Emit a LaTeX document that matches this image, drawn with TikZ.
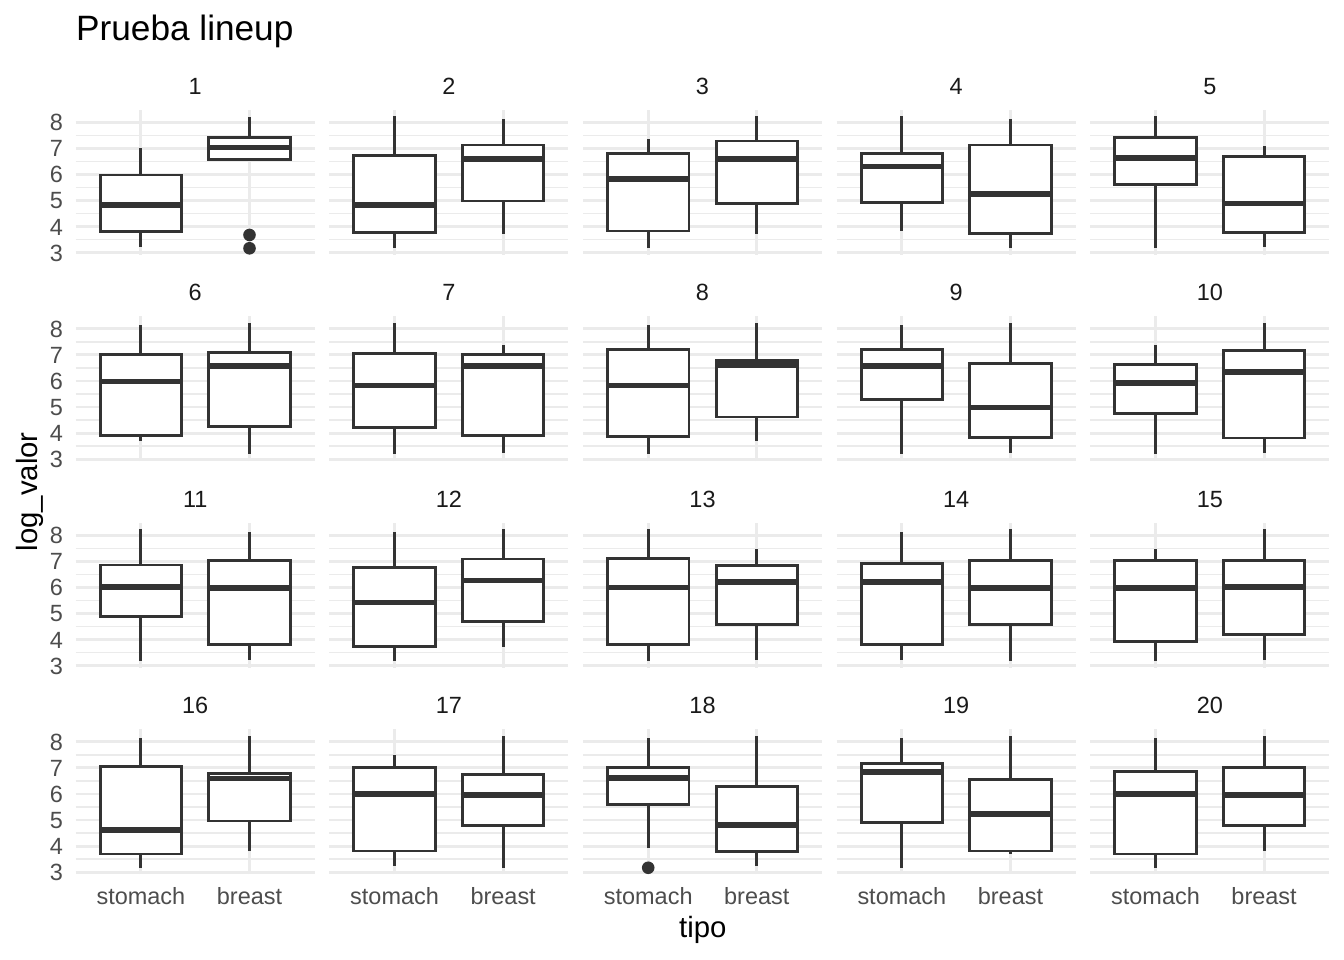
\documentclass[tikz,border=0pt]{standalone}
\usepackage{fontspec}
\setmainfont{Liberation Sans}
\definecolor{gridc}{HTML}{EBEBEB}
\definecolor{boxc}{HTML}{333333}
\definecolor{tickc}{HTML}{4D4D4D}
\definecolor{stripc}{HTML}{1A1A1A}
\tikzset{
  majgrid/.style={draw=gridc, line width=2.84pt},
  mingrid/.style={draw=gridc, line width=1.42pt},
  boxline/.style={draw=boxc, line width=2.84pt},
  medline/.style={draw=boxc, line width=5.7pt},
  outpt/.style={fill=boxc},
  ticklab/.style={text=tickc, font=\fontsize{23.47}{28}\selectfont, inner sep=0pt},
  striplab/.style={text=stripc, font=\fontsize{23.47}{28}\selectfont, inner sep=0pt},
  axtitle/.style={text=black, font=\fontsize{29.33}{35}\selectfont, inner sep=0pt},
  plottitle/.style={text=black, font=\fontsize{35.2}{42}\selectfont, inner sep=0pt},
  panel/.style 2 args={shift={(32.3pt+253.65pt*#1, 629.06pt-206.5pt*#2)}, x=108.6pt, y=26.08pt},
}
\newcommand\drawbox[6]{%
  \draw[boxline] (#1,#5) -- (#1,#6);
  \draw[boxline] (#1,#3) -- (#1,#2);
  \filldraw[boxline, fill=white] (#1-0.375,#3) rectangle (#1+0.375,#5);
  \draw[medline] (#1-0.375,#4) -- (#1+0.375,#4);
}
\begin{document}
\begin{tikzpicture}[x=1pt,y=1pt]
\useasboundingbox (0,0) rectangle (1344,960);
\fill[white] (0,0) rectangle (1344,960);
\node[plottitle, anchor=base west] (title) at (76,919) {Prueba lineup};
\foreach \i/\j/\n/\vA/\vB/\vC/\vD/\vE/\uA/\uB/\uC/\uD/\uE in {
 0/0/1/3.23/3.82/4.82/5.98/7.00/6.50/6.57/7.03/7.42/8.22,
 1/0/2/3.19/3.78/4.82/6.72/8.24/3.70/4.98/6.58/7.13/8.13,
 2/0/3/3.19/3.83/5.83/6.79/7.35/3.70/4.89/6.58/7.28/8.24,
 3/0/4/3.83/4.94/6.30/6.79/8.24/3.19/3.72/5.24/7.13/8.13,
 4/0/5/3.19/5.62/6.62/7.41/8.24/3.23/3.77/4.89/6.68/7.09,
 0/1/6/3.70/3.92/5.98/7.02/8.14/3.19/4.24/6.58/7.08/8.23,
 1/1/7/3.19/4.21/5.83/7.05/8.23/3.22/3.92/6.58/7.02/7.37,
 2/1/8/3.19/3.88/5.83/7.22/8.14/3.70/4.62/6.60/6.80/8.23,
 3/1/9/3.19/5.30/6.58/7.22/8.14/3.22/3.83/4.98/6.67/8.23,
 4/1/10/3.19/4.75/5.92/6.64/7.37/3.22/3.81/6.34/7.16/8.23,
 0/2/11/3.17/4.89/6.02/6.86/8.23/3.22/3.81/5.98/7.03/8.14,
 1/2/12/3.17/3.75/5.42/6.77/8.14/3.73/4.70/6.27/7.09/8.23,
 2/2/13/3.17/3.81/6.00/7.10/8.23/3.22/4.59/6.21/6.84/7.48,
 3/2/14/3.22/3.81/6.21/6.93/8.14/3.17/4.59/5.99/7.03/8.23,
 4/2/15/3.17/3.93/5.98/7.03/7.48/3.22/4.19/6.03/7.03/8.23,
 0/3/16/3.17/3.70/4.62/7.05/8.14/3.81/4.96/6.59/6.79/8.23,
 1/3/17/3.22/3.81/6.00/7.03/7.48/3.17/4.79/5.95/6.75/8.23,
 2/3/18/3.93/5.58/6.62/7.03/8.14/3.22/3.79/4.82/6.29/8.23,
 3/3/19/3.17/4.92/6.84/7.16/8.14/3.70/3.81/5.23/6.57/8.23,
 4/3/20/3.17/3.70/6.00/6.86/8.14/3.83/4.79/5.97/7.00/8.23}{
 \begin{scope}[panel={\i}{\j}]
   \foreach \g in {3.5,4.5,5.5,6.5,7.5} \draw[mingrid] (0.4,\g) -- (2.6,\g);
   \foreach \g in {3,4,5,6,7,8} \draw[majgrid] (0.4,\g) -- (2.6,\g);
   \draw[majgrid] (1,2.92) -- (1,8.49);
   \draw[majgrid] (2,2.92) -- (2,8.49);
   \drawbox{1}{\vA}{\vB}{\vC}{\vD}{\vE}
   \drawbox{2}{\uA}{\uB}{\uC}{\uD}{\uE}
   \node[striplab, anchor=base] (s\n) at (1.5,9.07) {\n};
   \ifnum\i=0
     \foreach \t in {3,4,5,6,7,8}
       \node[ticklab, anchor=base east] (y\n-\t) at (0.283,\t-0.322) {\t};
   \fi
   \ifnum\j=3
     \node[ticklab, anchor=base] (xs\n) at (1,1.758) {stomach};
     \node[ticklab, anchor=base] (xb\n) at (2,1.758) {breast};
   \fi
 \end{scope}
}
\begin{scope}[panel={0}{0}]
  \fill[outpt] (2,3.68) circle[radius=6.3pt];
  \fill[outpt] (2,3.17) circle[radius=6.3pt];
\end{scope}
\begin{scope}[panel={2}{3}]
  \fill[outpt] (1,3.17) circle[radius=6.3pt];
\end{scope}
\node[axtitle, anchor=base] (xt) at (702.8,22) {tipo};
\node[axtitle, rotate=90, anchor=base] (yt) at (38,468.1) {log\_valor};
\end{tikzpicture}
\end{document}
